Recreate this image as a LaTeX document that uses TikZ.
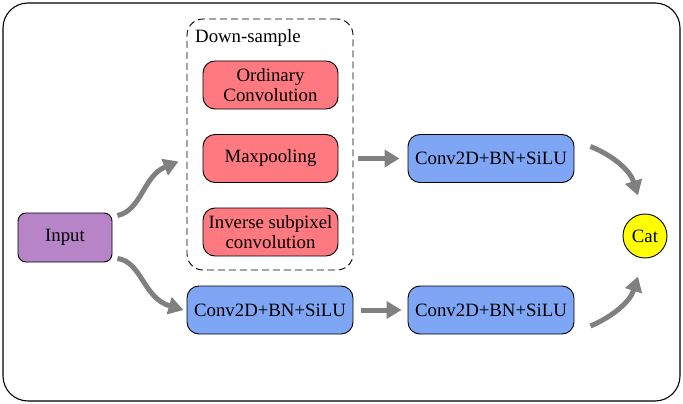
\documentclass[tikz,border=0pt]{standalone}
\usepackage{fontspec}
\setmainfont{Liberation Serif}
\usetikzlibrary{arrows.meta}
\definecolor{pinkfill}{HTML}{FF7A80}
\definecolor{bluefill}{HTML}{7FA6F5}
\definecolor{purplefill}{HTML}{B884C8}
\definecolor{catfill}{HTML}{FFFF00}
\definecolor{arrowgray}{HTML}{808080}
\begin{document}
\begin{tikzpicture}[x=1pt,y=-1pt,
  every node/.style={font=\fontsize{18.8}{20.5}\selectfont, align=center, inner sep=0pt},
  box/.style={draw=black, line width=0.9pt, rounded corners=12pt},
  pinkbox/.style={box, fill=pinkfill, minimum width=135pt, minimum height=48pt},
  bluebox/.style={box, fill=bluefill, minimum width=166pt, minimum height=48pt},
  inbox/.style={box, fill=purplefill, minimum width=94pt, minimum height=49pt, rounded corners=8pt},
  catnode/.style={circle, draw=black, line width=0.9pt, fill=catfill, minimum size=44pt},
  dsbox/.style={draw=black, dashed, dash pattern=on 7pt off 4pt, line width=0.9pt, rounded corners=16pt, minimum width=166pt, minimum height=251pt},
  flow/.style={draw=arrowgray, line width=5pt, -{Triangle[length=15pt,width=17pt]}}
]
\useasboundingbox (0,0) rectangle (683,404);
\draw[line width=1.1pt, rounded corners=25pt] (3,3) rectangle (680,401);

\node[dsbox] (ds) at (270,144.5) {};
\node[anchor=west] (dslabel) at (195,38) {Down-sample};
\node[pinkbox] (ord) at (270.5,85) {Ordinary\\Convolution};
\node[pinkbox] (maxp) at (270.5,158.5) {Maxpooling};
\node[pinkbox] (inv) at (270.5,232) {Inverse subpixel\\convolution};

\node[inbox] (in) at (65,237.5) {Input};
\node[bluebox] (c1) at (491,158.5) {Conv2D+BN+SiLU};
\node[bluebox] (c2) at (270,310) {Conv2D+BN+SiLU};
\node[bluebox] (c3) at (491,310) {Conv2D+BN+SiLU};
\node[catnode] (cat) at (645,236) {Cat};

\draw[flow] ([shift={(5,3)}]in.north east) .. controls (142,210) and (143,176) .. ([shift={(-8,17)}]ds.west);
\draw[flow] ([shift={(5,-4)}]in.south east) .. controls (142,262) and (143,298) .. ([xshift=-3]c2.west);
\draw[flow] ([xshift=5]ds.east |- maxp.east) -- ([xshift=-8]c1.west);
\draw[flow] ([xshift=8]c2.east) -- ([xshift=-6]c3.west);
\draw[flow] ([shift={(16,-12)}]c1.east) .. controls (612,155) and (630,170) .. ([shift={(-7,-18)}]cat.north);
\draw[flow] ([shift={(16,16)}]c3.east) .. controls (612,317) and (630,302) .. ([shift={(-7,18)}]cat.south);
\end{tikzpicture}
\end{document}
